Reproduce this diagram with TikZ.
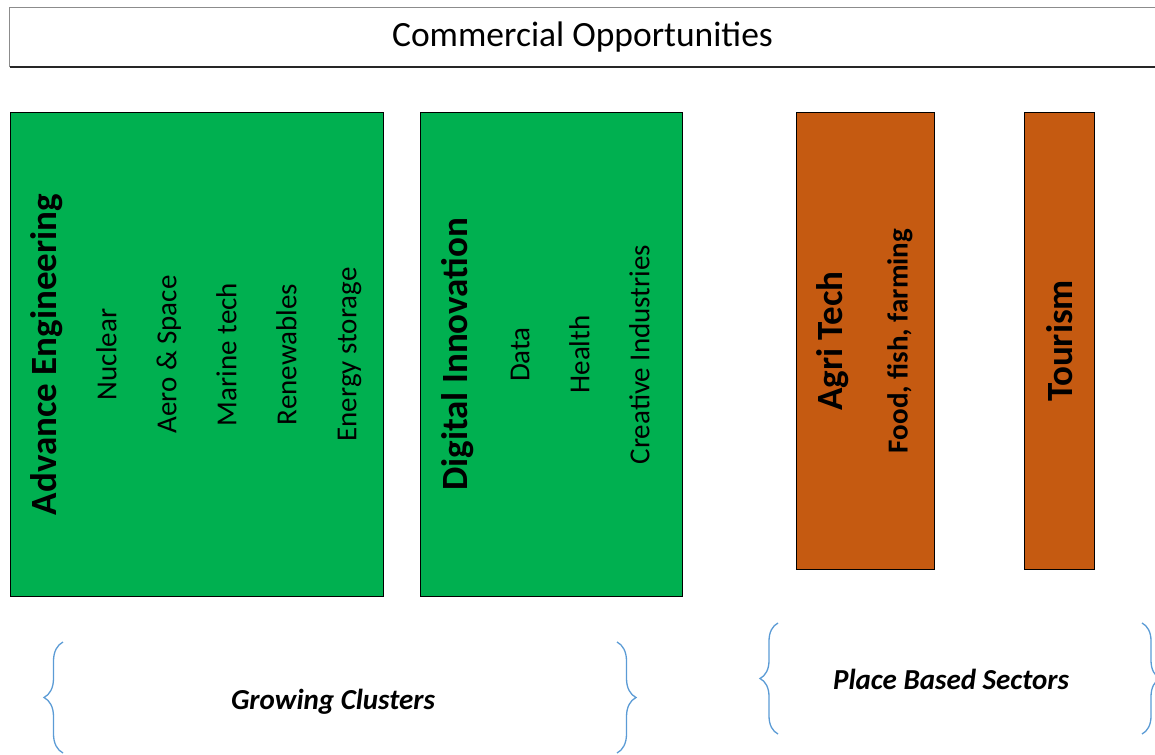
\documentclass[tikz,border=0pt]{standalone}
\usepackage{fontspec}
\setmainfont{Carlito}
\usepackage{tikz}
\usetikzlibrary{positioning,decorations.pathreplacing}

\definecolor{clustergreen}{HTML}{00B050}
\definecolor{sectororange}{HTML}{C55A11}
\definecolor{braceblue}{HTML}{5B9BD5}

\begin{document}
\begin{tikzpicture}[
      x=1pt, y=-1pt,
      box/.style={
        rectangle, draw=black, line width=1pt,
        inner sep=0pt, anchor=north west
      },
      cluster/.style={box, fill=clustergreen, minimum width=#1, minimum height=484pt},
      sector/.style={box, fill=sectororange, minimum width=#1, minimum height=457pt},
      itemlist/.style={rotate=90, align=center, inner sep=0pt,
        font=\fontsize{29}{60}\selectfont},
      heading/.style={font=\fontsize{37}{44}\selectfont\bfseries},
      grouptext/.style={font=\fontsize{29}{35}\selectfont\bfseries\itshape},
      curly/.style={decorate, decoration={brace, amplitude=#1},
        draw=braceblue, line width=1.3pt}
    ]
    \useasboundingbox (0,0) rectangle (1155,754);

    % Top banner, open on the right
    \node[minimum width=1145pt, minimum height=59pt, inner sep=0pt,
          font=\fontsize{35.5}{40}\selectfont] (title) at (582.5,37.5)
        {Commercial Opportunities};
    \draw[black!45, line width=1pt]
        (title.north east) -- (title.north west) -- (title.south west);
    \draw[black!85, line width=1.6pt] (title.south west) -- (title.south east);

    % Growing clusters
    \node[cluster=373pt] (adveng) at (10,112) {};
    \node[cluster=262pt, right=36pt of adveng.north east, anchor=north west] (diginn) {};

    % Place based sectors
    \node[sector=138pt, right=113pt of diginn.north east, anchor=north west] (agri) {};
    \node[sector=70pt, right=89pt of agri.north east, anchor=north west] (tour) {};

    \node[itemlist] (adveng-txt) at ([xshift=-1pt]adveng.center) {%
        {\fontsize{37}{60}\selectfont\bfseries Advance Engineering}\\
        Nuclear\\
        Aero \& Space\\
        Marine tech\\
        Renewables\\
        Energy storage
    };
    \node[itemlist] (diginn-txt) at ([xshift=-6pt]diginn.center) {%
        {\fontsize{37}{60}\selectfont\bfseries Digital Innovation}\\[2pt]
        Data\\
        Health\\
        Creative Industries
    };
    \node[itemlist] (agri-txt) at ([xshift=-1pt]agri.center) {%
        {\fontsize{37}{60}\selectfont\bfseries Agri Tech}\\[5pt]
        \bfseries Food, fish, farming
    };
    \node[itemlist, heading] (tour-txt) at (tour.center) {Tourism};

    % Group labels and braces
    \node[grouptext] (grow) at (333,702) {Growing Clusters};
    \node[grouptext] (place) at (951,679) {Place Based Sectors};

    \draw[curly=19pt] (63,753) -- (63,642);
    \draw[curly=19pt] (617,642) -- (617,753);
    \draw[curly=18pt] (778,734) -- (778,623);
    \draw[curly=18pt] (1142,623) -- (1142,734);
    \end{tikzpicture}
\end{document}
